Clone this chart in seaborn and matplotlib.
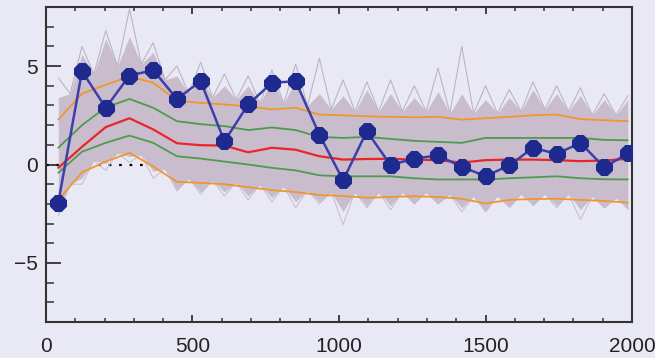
import numpy as np
import matplotlib
matplotlib.use("Agg")
import matplotlib.pyplot as plt
import seaborn as sns
from matplotlib.ticker import MultipleLocator

# bin centres of the measured spectrum
xs = [42, 123, 204, 285, 366, 447, 528, 609, 690, 771, 852, 933, 1014,
      1095, 1176, 1257, 1338, 1419, 1500, 1581, 1662, 1743, 1824, 1905, 1986]

# measured difference spectrum
obs = [-1.94, 4.74, 2.88, 4.52, 4.79, 3.33, 4.23, 1.18, 3.05, 4.15, 4.23, 1.52,
       -0.80, 1.69, -0.03, 0.30, 0.46, -0.12, -0.59, -0.05, 0.85, 0.54, 1.10,
       -0.14, 0.56]

# simulation statistics: median, 1-sigma and 2-sigma bounds
med = [-0.17, 0.90, 1.90, 2.35, 1.78, 1.08, 0.98, 0.96, 0.62, 0.85, 0.75, 0.42,
       0.25, 0.28, 0.29, 0.25, 0.22, 0.10, 0.22, 0.25, 0.25, 0.22, 0.17, 0.20, 0.29]
sig1_hi = [0.85, 2.00, 2.90, 3.33, 2.88, 2.20, 2.05, 1.95, 1.75, 1.88, 1.75, 1.40,
           1.35, 1.40, 1.30, 1.20, 1.15, 1.10, 1.35, 1.35, 1.35, 1.35, 1.35, 1.25, 1.23]
sig1_lo = [-0.42, 0.65, 1.10, 1.47, 1.10, 0.42, 0.30, 0.15, 0.00, -0.17, -0.30, -0.55,
           -0.60, -0.60, -0.60, -0.70, -0.76, -0.76, -0.76, -0.70, -0.65, -0.60, -0.70,
           -0.75, -0.76]
sig2_hi = [2.28, 3.60, 4.05, 4.48, 4.15, 3.25, 3.13, 3.05, 2.95, 2.80, 2.88, 2.54,
           2.50, 2.45, 2.42, 2.40, 2.42, 2.28, 2.35, 2.42, 2.50, 2.54, 2.30, 2.25, 2.20]
sig2_lo = [-1.80, -0.40, 0.15, 0.59, -0.10, -0.88, -0.93, -1.00, -1.15, -1.30, -1.40,
           -1.55, -1.60, -1.69, -1.65, -1.61, -1.65, -1.74, -1.98, -1.80, -1.75, -1.74,
           -1.80, -1.85, -1.94]

# envelope of the simulated realisations: values at bin centres and between bins
sim_hi_peak = [3.4, 5.6, 6.4, 6.5, 5.7, 4.5, 4.4, 4.0, 4.0, 4.3, 4.3, 3.6, 3.5,
               3.8, 3.6, 3.4, 3.7, 3.6, 3.3, 3.4, 3.8, 3.6, 3.5, 3.3, 3.3]
sim_hi_gap = [3.6, 4.6, 5.0, 5.1, 4.3, 3.6, 3.4, 3.3, 3.1, 3.1, 3.0, 2.8,
              2.7, 2.7, 2.7, 2.7, 2.6, 2.6, 2.6, 2.7, 2.8, 2.7, 2.5, 2.5]
sim_lo_peak = [-2.2, -0.7, 0.05, 0.4, -0.35, -1.3, -1.4, -1.4, -1.6, -1.7, -1.9, -1.9,
               -2.4, -2.1, -2.1, -2.0, -2.0, -2.2, -2.4, -2.2, -2.1, -2.1, -2.3, -2.2, -2.3]
sim_lo_gap = [-1.0, 0.2, 0.6, 0.5, -0.2, -0.7, -0.8, -0.9, -1.0, -1.1, -1.3, -1.4,
              -1.4, -1.4, -1.4, -1.4, -1.5, -1.6, -1.6, -1.5, -1.5, -1.5, -1.6, -1.7]
sim_max = [4.4, 6.0, 6.8, 7.9, 6.2, 5.0, 5.2, 4.6, 4.5, 4.8, 5.1, 5.4, 4.3,
           4.2, 4.3, 4.0, 4.9, 6.0, 4.0, 3.8, 4.2, 4.0, 3.9, 3.6, 3.5]
sim_min = [-2.6, -1.0, -0.3, 0.1, -0.7, -1.35, -1.5, -1.6, -1.8, -1.9, -2.2, -2.0,
           -3.05, -2.2, -2.3, -2.0, -2.0, -2.4, -2.4, -2.1, -2.0, -2.2, -2.8, -2.2, -2.1]

x_ticks = [0, 500, 1000, 1500, 2000]
y_ticks = [-5, 0, 5]


def interleave(peaks, gaps):
    out = []
    for i, p in enumerate(peaks):
        out.append(p)
        if i < len(gaps):
            out.append(gaps[i])
    return out


mids = [(a + b) / 2 for a, b in zip(xs[:-1], xs[1:])]
x_env = interleave(xs, mids)

sns.set_style("ticks")
plt.rcParams["font.family"] = ["Liberation Sans", "DejaVu Sans"]

bg = "#e9e9f5"
fig = plt.figure(figsize=(6.55, 3.58), dpi=100, facecolor=bg)
ax = fig.add_axes([0.0702, 0.1006, 0.8947, 0.8798], facecolor=bg)

# zero reference, partly hidden behind the simulation band
ax.axhline(0, color="black", lw=1.6, ls=(0, (1.2, 3.5)), zorder=1)

# band of simulated realisations
ax.fill_between(x_env, interleave(sim_lo_peak, sim_lo_gap),
                interleave(sim_hi_peak, sim_hi_gap),
                color="#c9bdcd", lw=0, zorder=2)
sns.lineplot(x=x_env, y=interleave(sim_max, sim_hi_gap), color="#bdb3c4",
             lw=0.8, ax=ax, zorder=2.5)
sns.lineplot(x=x_env, y=interleave(sim_min, sim_lo_gap), color="#c4bccb",
             lw=0.7, ax=ax, zorder=2.5)

# percentile curves
for hi, lo, col in [(sig2_hi, sig2_lo, "#f0962e"), (sig1_hi, sig1_lo, "#4f9a4f")]:
    sns.lineplot(x=xs, y=hi, color=col, lw=1.3, ax=ax, zorder=3)
    sns.lineplot(x=xs, y=lo, color=col, lw=1.3, ax=ax, zorder=3)
sns.lineplot(x=xs, y=med, color="#e8262a", lw=1.6, ax=ax, zorder=3)

# measured points
sns.lineplot(x=xs, y=obs, color="#3d3fa8", lw=1.8, marker="8", markersize=12,
             markerfacecolor="#1f2a8e", markeredgecolor="#1f2a8e", ax=ax, zorder=4)

ax.set_xlim(0, 2000)
ax.set_ylim(-8, 8)
ax.set_xticks(x_ticks)
ax.set_yticks(y_ticks)
ax.xaxis.set_minor_locator(MultipleLocator(100))
ax.yaxis.set_minor_locator(MultipleLocator(1))
ax.tick_params(axis="x", which="major", direction="in", length=5, width=1.3,
               top=True, bottom=True, labelsize=15, pad=11, colors="#333333",
               labelcolor="#222222")
ax.tick_params(axis="x", which="minor", direction="in", length=2.8, width=1.1,
               top=True, bottom=True, colors="#333333")
ax.tick_params(axis="y", which="major", direction="in", length=11, width=1.3,
               left=True, right=False, labelsize=15, pad=6, colors="#333333",
               labelcolor="#222222")
ax.tick_params(axis="y", which="minor", direction="in", length=5.5, width=1.1,
               left=True, right=False, colors="#333333")
for s in ax.spines.values():
    s.set_visible(True)
    s.set_color("#333333")
    s.set_linewidth(1.5)
ax.set_xlabel("")
ax.set_ylabel("")
if ax.get_legend() is not None:
    ax.get_legend().remove()

fig.savefig("out.png", dpi=100, facecolor=bg)
